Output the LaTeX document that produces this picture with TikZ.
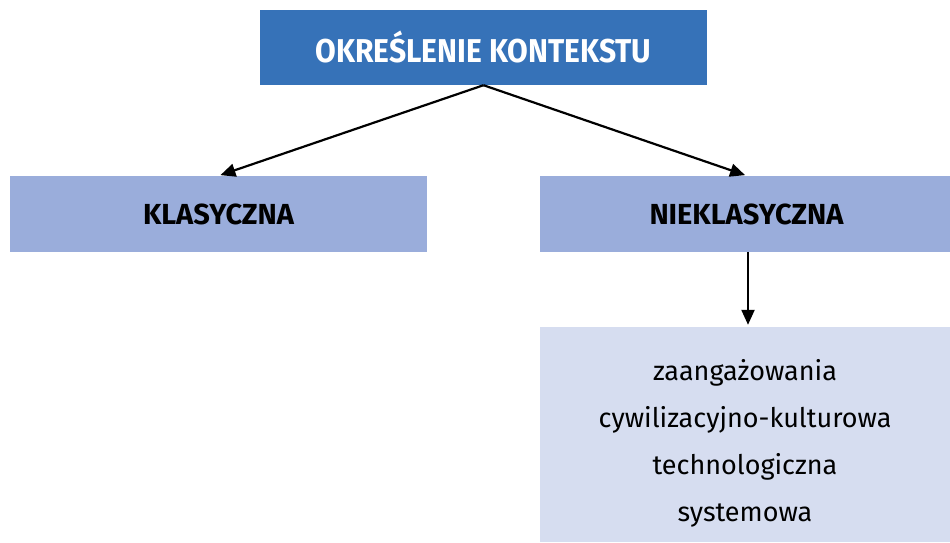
\documentclass[tikz,border=0pt]{standalone}
\usepackage{fontspec}
\setmainfont{Fira Sans}
\newfontfamily\headfont[FakeStretch=0.91]{Fira Sans}
\newfontfamily\midfont{Fira Sans}
\usetikzlibrary{arrows.meta}
\definecolor{topblue}{RGB}{54,114,184}
\definecolor{midblue}{RGB}{154,173,219}
\definecolor{lowblue}{RGB}{214,221,240}
\tikzset{
  box/.style={rectangle, inner sep=0pt, draw=none},
  conn/.style={line width=2.2pt, -{Triangle[length=15pt,width=13pt]}, shorten >=2pt},
  midlabel/.style={font=\midfont\bfseries\fontsize{29}{34}\selectfont},
}
\begin{document}
\begin{tikzpicture}[x=1pt,y=1pt]
\useasboundingbox (0,0) rectangle (950,-542);
\node[box, fill=topblue, minimum width=447pt, minimum height=75pt, text=white,
  font=\headfont\bfseries\fontsize{33}{38}\selectfont] (top) at (483.5,-47.5) {OKREŚLENIE KONTEKSTU};
\node[box, fill=midblue, minimum width=417pt, minimum height=76pt, midlabel] (left) at (218.5,-214) {KLASYCZNA};
\node[box, fill=midblue, minimum width=410pt, minimum height=76pt, midlabel] (right) at (745,-214) {\hspace{3pt}NIEKLASYCZNA};
\node[box, fill=lowblue, minimum width=410pt, minimum height=215pt] (low) at (745,-434.5) {};
\node[inner sep=0pt, align=center, font=\fontsize{27}{47}\selectfont] (lowtext) at ([yshift=-9pt]low.center) {zaangażowania\\cywilizacyjno-kulturowa\\technologiczna\\systemowa};
\draw[conn] (top.south) -- (left.north);
\draw[conn] (top.south) -- ([xshift=2pt]right.north);
\draw[conn] ([xshift=3pt]right.south) -- ([xshift=3pt]low.north);
\end{tikzpicture}
\end{document}
